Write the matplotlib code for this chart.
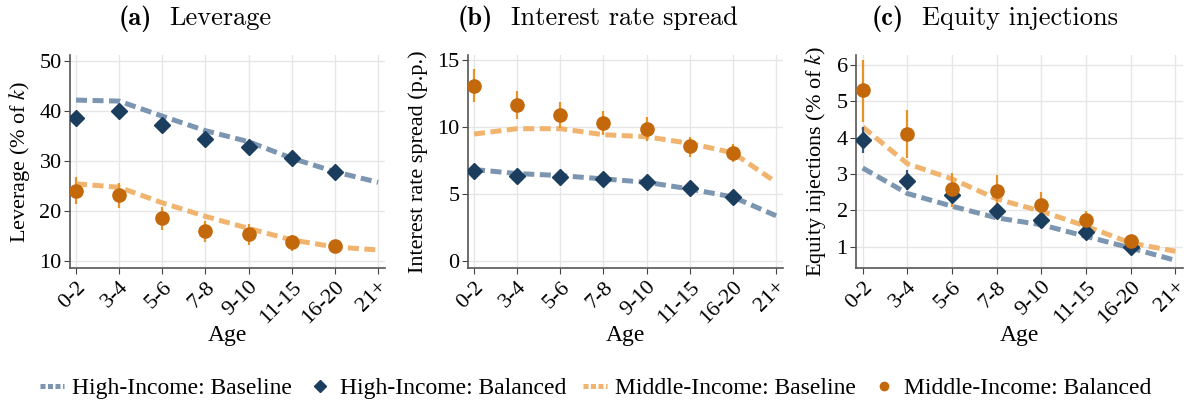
import os
import matplotlib
matplotlib.use("Agg")
import matplotlib.pyplot as plt
from matplotlib.lines import Line2D
from matplotlib.font_manager import FontProperties
import numpy as np

plt.rcParams["font.family"] = ["Liberation Serif", "DejaVu Serif"]
plt.rcParams["mathtext.fontset"] = "stix"

ages = ["0-2", "3-4", "5-6", "7-8", "9-10", "11-15", "16-20", "21+"]

# Panel (a): leverage, % of k
lev_hi_base = [42.2, 42.0, 39.0, 36.1, 33.9, 30.6, 27.9, 25.8]
lev_hi_bal = [38.7, 40.1, 37.2, 34.5, 32.8, 30.6, 27.9]
lev_hi_lo = [37.9, 39.3, 36.4, 33.8, 32.1, 30.0, 27.3]
lev_hi_up = [39.5, 40.9, 38.0, 35.2, 33.5, 31.2, 28.5]
lev_mid_base = [25.5, 24.8, 21.7, 19.0, 16.6, 14.3, 12.9, 12.3]
lev_mid_bal = [24.1, 23.3, 18.6, 16.0, 15.4, 13.8, 13.0]
lev_mid_lo = [21.4, 20.7, 16.2, 13.8, 13.3, 12.1, 11.7]
lev_mid_up = [26.9, 25.7, 20.9, 18.0, 17.4, 15.3, 14.3]

# Panel (b): interest rate spread, p.p.
spr_hi_base = [6.85, 6.55, 6.4, 6.15, 5.9, 5.4, 4.8, 3.4]
spr_hi_bal = [6.75, 6.35, 6.3, 6.15, 5.95, 5.45, 4.8]
spr_hi_lo = [6.5, 6.1, 6.05, 5.9, 5.7, 5.2, 4.55]
spr_hi_up = [7.0, 6.6, 6.55, 6.4, 6.2, 5.7, 5.05]
spr_mid_base = [9.5, 9.9, 9.9, 9.45, 9.3, 8.8, 8.1, 5.9]
spr_mid_bal = [13.1, 11.7, 10.9, 10.3, 9.9, 8.6, 8.1]
spr_mid_lo = [11.9, 10.6, 9.95, 9.45, 9.0, 7.8, 7.45]
spr_mid_up = [14.35, 12.7, 11.9, 11.2, 10.8, 9.3, 8.75]

# Panel (c): equity injections, % of k
eq_hi_base = [3.16, 2.46, 2.11, 1.79, 1.6, 1.28, 0.96, 0.62]
eq_hi_bal = [3.94, 2.8, 2.43, 1.99, 1.74, 1.39, 1.0]
eq_hi_lo = [3.57, 2.55, 2.25, 1.85, 1.6, 1.3, 0.92]
eq_hi_up = [4.3, 3.1, 2.62, 2.13, 1.88, 1.48, 1.08]
eq_mid_base = [4.29, 3.28, 2.86, 2.31, 1.97, 1.56, 1.1, 0.87]
eq_mid_bal = [5.3, 4.1, 2.57, 2.52, 2.13, 1.74, 1.15]
eq_mid_lo = [4.44, 3.44, 2.1, 2.06, 1.76, 1.51, 0.94]
eq_mid_up = [6.12, 4.75, 3.02, 2.98, 2.5, 1.97, 1.33]

C_HI_LINE = "#7c95b0"
C_HI_PT = "#1b3d5e"
C_MID_LINE = "#f1b46f"
C_MID_PT = "#c4680c"
C_MID_ERR = "#e8922a"
C_HI_ERR = "#3a5a7c"

DASH = (2.2, 1.1)

# Computer Modern faces bundled with matplotlib, for the panel titles
_ttf = os.path.join(matplotlib.get_data_path(), "fonts", "ttf")
FP_BOLD = FontProperties(fname=os.path.join(_ttf, "cmb10.ttf"), size=19)
FP_REG = FontProperties(fname=os.path.join(_ttf, "cmr10.ttf"), size=19)

fig = plt.figure(figsize=(11.9, 4.07), dpi=100)
W, H = 1190.0, 407.0

def ax_at(l, t, r, b):
    return fig.add_axes([l / W, 1 - b / H, (r - l) / W, (b - t) / H])

panels = [
    dict(box=(70, 55, 385, 268), xlim=(-0.14, 7.16), ylim=(8.7, 51.2), yticks=[10, 20, 30, 40, 50],
         hb=lev_hi_base, hp=lev_hi_bal, hlo=lev_hi_lo, hup=lev_hi_up,
         mb=lev_mid_base, mp=lev_mid_bal, mlo=lev_mid_lo, mup=lev_mid_up,
         ylabel=r"Leverage (% of $k$)", ylx=20,
         tag="(a)", title="Leverage", tcx=195),
    dict(box=(468, 55, 783, 268), xlim=(-0.14, 7.16), ylim=(-0.5, 15.4), yticks=[0, 5, 10, 15],
         hb=spr_hi_base, hp=spr_hi_bal, hlo=spr_hi_lo, hup=spr_hi_up,
         mb=spr_mid_base, mp=spr_mid_bal, mlo=spr_mid_lo, mup=spr_mid_up,
         ylabel="Interest rate spread (p.p.)", ylx=418,
         tag="(b)", title="Interest rate spread", tcx=598),
    dict(box=(856, 55, 1183, 268), xlim=(-0.15, 7.17), ylim=(0.41, 6.27), yticks=[1, 2, 3, 4, 5, 6],
         hb=eq_hi_base, hp=eq_hi_bal, hlo=eq_hi_lo, hup=eq_hi_up,
         mb=eq_mid_base, mp=eq_mid_bal, mlo=eq_mid_lo, mup=eq_mid_up,
         ylabel=r"Equity injections (% of $k$)", ylx=815,
         tag="(c)", title="Equity injections", tcx=995),
]

xb = np.arange(len(ages))
xp = np.arange(len(ages) - 1)
title_parts = []

for p in panels:
    ax = ax_at(*p["box"])
    ax.set_xlim(*p["xlim"])
    ax.set_ylim(*p["ylim"])
    ax.set_xticks(xb)
    ax.set_xticklabels(ages, rotation=45, ha="right", rotation_mode="anchor", fontsize=16)
    ax.set_yticks(p["yticks"])
    ax.tick_params(axis="y", labelsize=16, length=4, color="#444444", pad=2)
    ax.tick_params(axis="x", length=4, color="#444444", pad=3)
    ax.grid(True, color="#e6e6e6", lw=1.0)
    ax.set_axisbelow(True)
    for s in ("top", "right"):
        ax.spines[s].set_visible(False)
    for s in ("left", "bottom"):
        ax.spines[s].set_color("#555555")
        ax.spines[s].set_linewidth(1.2)

    ax.plot(xb, p["hb"], color=C_HI_LINE, lw=3.6, dashes=DASH, zorder=3)
    ax.plot(xb, p["mb"], color=C_MID_LINE, lw=3.6, dashes=DASH, zorder=3)

    hp = np.array(p["hp"]); mp = np.array(p["mp"])
    ax.vlines(xp, p["hlo"], p["hup"], color=C_HI_ERR, lw=1.6, zorder=4)
    ax.vlines(xp, p["mlo"], p["mup"], color=C_MID_ERR, lw=1.6, zorder=4)
    ax.plot(xp, hp, ls="none", marker="D", ms=8.2, color=C_HI_PT, mec=C_HI_PT, zorder=5)
    ax.plot(xp, mp, ls="none", marker="o", ms=9.5, color=C_MID_PT, mec=C_MID_PT, zorder=5)

    ax.set_xlabel("Age", fontsize=17)
    ax.xaxis.set_label_coords(0.5, -(335 - p["box"][3]) / (p["box"][3] - p["box"][1]))
    ax.xaxis.label.set_va("center")

    cy = (p["box"][1] + p["box"][3]) / 2
    fig.text(p["ylx"] / W, 1 - cy / H, p["ylabel"], rotation=90, ha="center", va="center", fontsize=16)

    t_tag = fig.text(0, 1 - 25 / H, p["tag"], ha="left", va="baseline", fontproperties=FP_BOLD)
    t_txt = fig.text(0, 1 - 25 / H, p["title"], ha="left", va="baseline", fontproperties=FP_REG)
    title_parts.append((p["tcx"], t_tag, t_txt))

# lay out each bold tag + title pair centred on its panel
renderer = fig.canvas.get_renderer()
GAP = 18
for cx, t_tag, t_txt in title_parts:
    w1 = t_tag.get_window_extent(renderer).width
    w2 = t_txt.get_window_extent(renderer).width
    x0 = cx - (w1 + GAP + w2) / 2
    t_tag.set_x(x0 / W)
    t_txt.set_x((x0 + w1 + GAP) / W)

handles = [
    Line2D([], [], color=C_HI_LINE, lw=3.6, dashes=(1.0, 0.5)),
    Line2D([], [], ls="none", marker="D", ms=6.0, color=C_HI_PT),
    Line2D([], [], color=C_MID_LINE, lw=3.6, dashes=(1.0, 0.5)),
    Line2D([], [], ls="none", marker="o", ms=6.0, color=C_MID_PT),
]
labels = ["High-Income: Baseline", "High-Income: Balanced", "Middle-Income: Baseline", "Middle-Income: Balanced"]
fig.legend(handles, labels, loc="center", bbox_to_anchor=(596 / W, 1 - 388 / H), ncol=4, frameon=False,
           fontsize=17, handlelength=1.0, handletextpad=0.35, columnspacing=0.7)

fig.savefig("out.png", dpi=100)
